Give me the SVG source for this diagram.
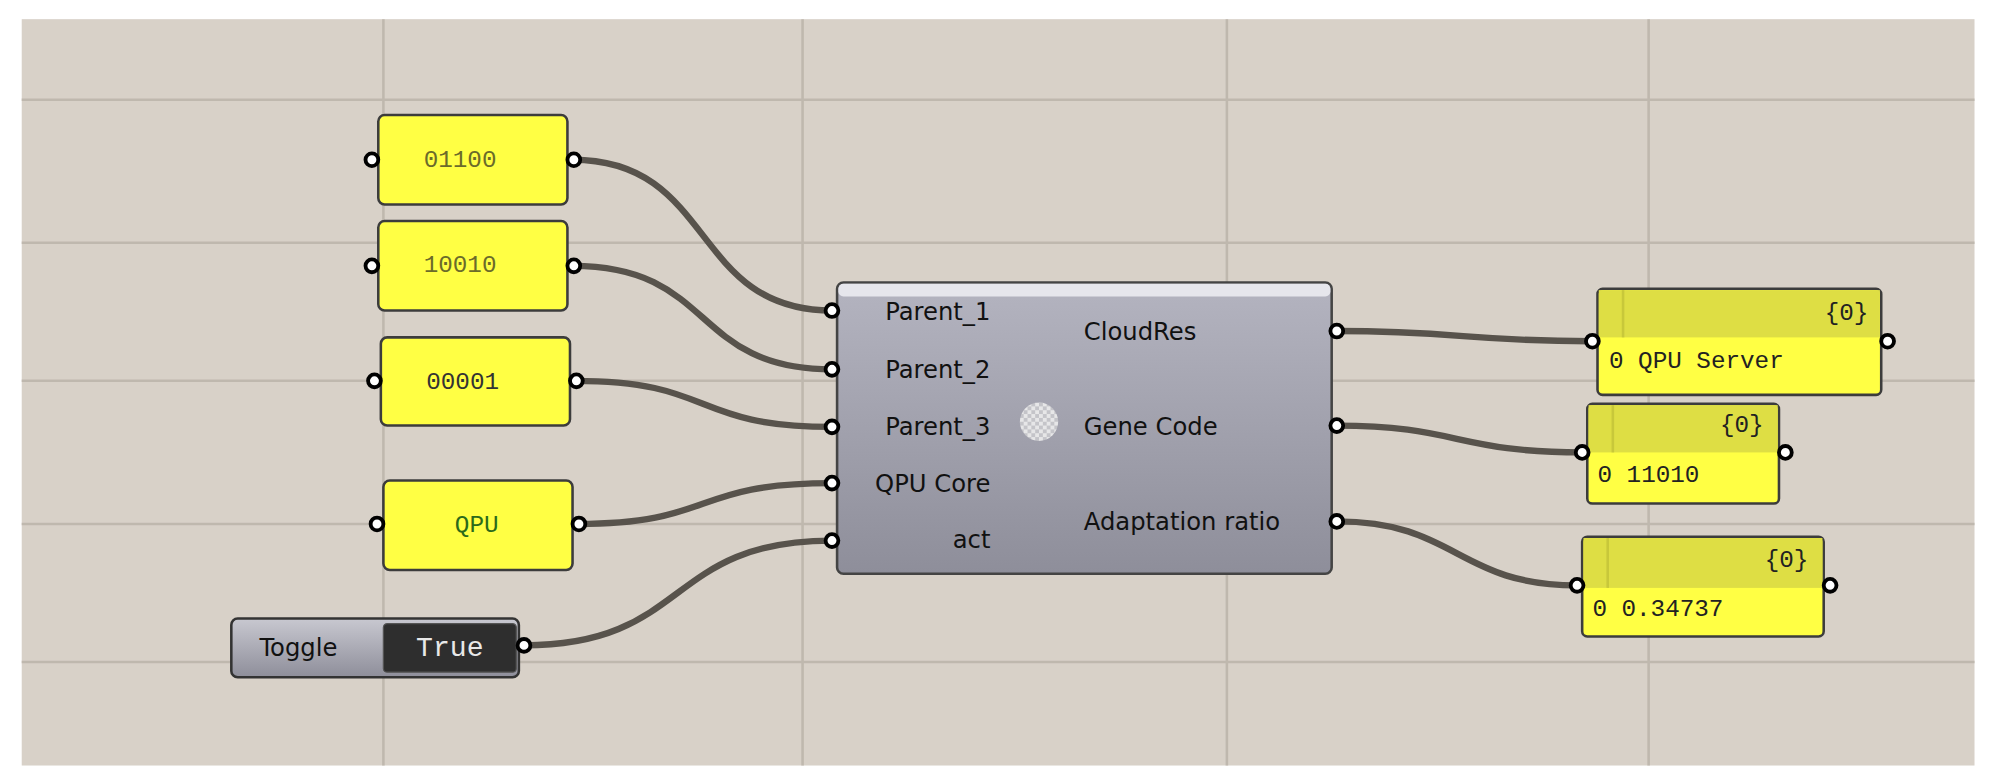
<svg xmlns="http://www.w3.org/2000/svg" width="2004" height="782" viewBox="0 0 2004 782">
<defs>
<style>
.grid{stroke:#bfb8ae;stroke-width:2}
.wire{fill:none;stroke:#58534c;stroke-width:5}
.port{fill:#fff;stroke:#000;stroke-width:3}
.yel{fill:#ffff44;stroke:#3c3c3c;stroke-width:2}
.ytxt{font-family:"Liberation Mono",monospace;font-size:19px;fill:#6b6b2a}
.lbl{font-family:"DejaVu Sans",sans-serif;font-size:19px;fill:#111}
.ptxt{font-family:"Liberation Mono",monospace;font-size:19px;fill:#222}
</style>
<linearGradient id="comp" x1="0" y1="0" x2="0" y2="1">
<stop offset="0" stop-color="#b4b4c0"/><stop offset="1" stop-color="#8e8e9a"/>
</linearGradient>
<linearGradient id="tog" x1="0" y1="0" x2="0" y2="1">
<stop offset="0" stop-color="#c8c8d0"/><stop offset="1" stop-color="#8e8e9a"/>
</linearGradient>
<pattern id="chk" width="6" height="6" patternUnits="userSpaceOnUse">
<rect width="6" height="6" fill="#eee"/><rect width="3" height="3" fill="#c8c8cc"/><rect x="3" y="3" width="3" height="3" fill="#c8c8cc"/>
</pattern>
</defs>
<rect width="2004" height="782" fill="#fff"/>
<g transform="scale(1.278)">
<rect x="17" y="15" width="1528" height="584" fill="#d8d1c8"/>
<g>
<line class="grid" x1="300" y1="15" x2="300" y2="599"/>
<line class="grid" x1="628" y1="15" x2="628" y2="599"/>
<line class="grid" x1="960" y1="15" x2="960" y2="599"/>
<line class="grid" x1="1290" y1="15" x2="1290" y2="599"/>
<line class="grid" x1="17" y1="78" x2="1545" y2="78"/>
<line class="grid" x1="17" y1="190" x2="1545" y2="190"/>
<line class="grid" x1="17" y1="298" x2="1545" y2="298"/>
<line class="grid" x1="17" y1="410" x2="1545" y2="410"/>
<line class="grid" x1="17" y1="518" x2="1545" y2="518"/>
</g>
<g id="connectors">
<path class="wire" d="M448,125 C560,125 540,243 651,243"/>
<path class="wire" d="M448,208 C560,208 540,289 651,289"/>
<path class="wire" d="M450,298 C560,298 540,334 651,334"/>
<path class="wire" d="M452,410 C560,410 540,378 651,378"/>
<path class="wire" d="M410,505 C540,505 520,423 651,423"/>
<path class="wire" d="M1046,259 C1140,259 1150,267 1245,267"/>
<path class="wire" d="M1046,333 C1140,333 1140,354 1238,354"/>
<path class="wire" d="M1046,408 C1140,408 1140,458 1234,458"/>
</g>
<g id="n01100">
<rect class="yel" x="296" y="90" width="148" height="70" rx="5"/>
<text class="ytxt" x="360" y="131" text-anchor="middle">01100</text>
<circle class="port" cx="291" cy="125" r="5"/><circle class="port" cx="449" cy="125" r="5"/>
</g>
<g id="n10010">
<rect class="yel" x="296" y="173" width="148" height="70" rx="5"/>
<text class="ytxt" x="360" y="213" text-anchor="middle">10010</text>
<circle class="port" cx="291" cy="208" r="5"/><circle class="port" cx="449" cy="208" r="5"/>
</g>
<g id="n00001">
<rect class="yel" x="298" y="264" width="148" height="69" rx="5"/>
<text class="ytxt" x="362" y="304" text-anchor="middle" style="fill:#333">00001</text>
<circle class="port" cx="293" cy="298" r="5"/><circle class="port" cx="451" cy="298" r="5"/>
</g>
<g id="nQPU">
<rect class="yel" x="300" y="376" width="148" height="70" rx="5"/>
<text class="ytxt" x="373" y="416" text-anchor="middle" style="fill:#2b6a1a">QPU</text>
<circle class="port" cx="295" cy="410" r="5"/><circle class="port" cx="453" cy="410" r="5"/>
</g>
<g id="toggle">
<rect x="181" y="484" width="225" height="46" rx="5" fill="url(#tog)" stroke="#333" stroke-width="2"/>
<text class="lbl" x="203" y="513">Toggle</text>
<rect x="300" y="488" width="104" height="38" rx="3" fill="#2e2e2e" stroke="#555"/>
<text x="352" y="513" text-anchor="middle" font-family="Liberation Mono,monospace" font-size="22" fill="#e8e8e8">True</text>
<circle class="port" cx="410" cy="505" r="5"/>
</g>
<g id="component">
<rect x="655" y="221" width="387" height="228" rx="5" fill="url(#comp)" stroke="#444" stroke-width="2"/>
<rect x="656" y="222" width="385" height="10" rx="4" fill="#e6e6ec"/>
<text class="lbl" x="775" y="250" text-anchor="end">Parent_1</text>
<text class="lbl" x="775" y="296" text-anchor="end">Parent_2</text>
<text class="lbl" x="775" y="340" text-anchor="end">Parent_3</text>
<text class="lbl" x="775" y="385" text-anchor="end">QPU Core</text>
<text class="lbl" x="775" y="429" text-anchor="end">act</text>
<text class="lbl" x="848" y="266">CloudRes</text>
<text class="lbl" x="848" y="340">Gene Code</text>
<text class="lbl" x="848" y="415">Adaptation ratio</text>
<circle cx="813" cy="330" r="15" fill="url(#chk)" opacity="0.9"/>
<circle class="port" cx="651" cy="243" r="5"/><circle class="port" cx="651" cy="289" r="5"/>
<circle class="port" cx="651" cy="334" r="5"/><circle class="port" cx="651" cy="378" r="5"/>
<circle class="port" cx="651" cy="423" r="5"/>
<circle class="port" cx="1046" cy="259" r="5"/><circle class="port" cx="1046" cy="333" r="5"/>
<circle class="port" cx="1046" cy="408" r="5"/>
</g>
<g id="panel1">
<rect class="yel" x="1250" y="226" width="222" height="83" rx="4"/>
<rect x="1251" y="227" width="220" height="37" fill="#dede44"/>
<line x1="1270" y1="227" x2="1270" y2="264" stroke="#c8c83a" stroke-width="2"/>
<text class="ptxt" x="1462" y="250" text-anchor="end">{0}</text>
<text class="ptxt" x="1259" y="288">0 QPU Server</text>
<circle class="port" cx="1246" cy="267" r="5"/><circle class="port" cx="1477" cy="267" r="5"/>
</g>
<g id="panel2">
<rect class="yel" x="1242" y="316" width="150" height="78" rx="4"/>
<rect x="1243" y="317" width="148" height="37" fill="#dede44"/>
<line x1="1262" y1="317" x2="1262" y2="354" stroke="#c8c83a" stroke-width="2"/>
<text class="ptxt" x="1380" y="338" text-anchor="end">{0}</text>
<text class="ptxt" x="1250" y="377">0 11010</text>
<circle class="port" cx="1238" cy="354" r="5"/><circle class="port" cx="1397" cy="354" r="5"/>
</g>
<g id="panel3">
<rect class="yel" x="1238" y="420" width="189" height="78" rx="4"/>
<rect x="1239" y="421" width="187" height="39" fill="#dede44"/>
<line x1="1258" y1="421" x2="1258" y2="460" stroke="#c8c83a" stroke-width="2"/>
<text class="ptxt" x="1415" y="444" text-anchor="end">{0}</text>
<text class="ptxt" x="1246" y="482">0 0.34737</text>
<circle class="port" cx="1234" cy="458" r="5"/><circle class="port" cx="1432" cy="458" r="5"/>
</g>
</g>
</svg>
